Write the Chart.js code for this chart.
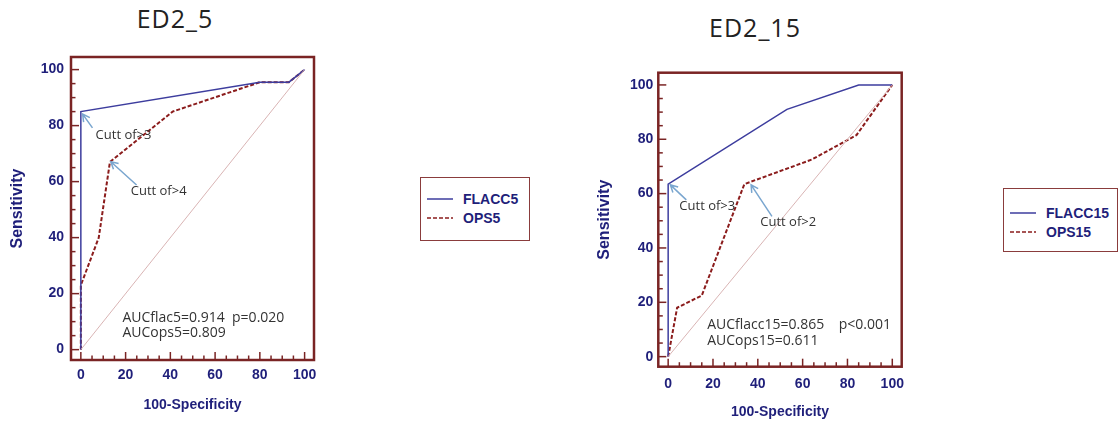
<!DOCTYPE html>
<html>
<head>
<meta charset="utf-8">
<title>ROC ED2</title>
<style>
    body {
        margin: 0;
        background: #ffffff;
        width: 1120px;
        height: 428px;
        position: relative;
        overflow: hidden;
    }
    canvas { position: absolute; top: 0; }
    .heading {
        position: absolute;
        font-family: "Open Sans", sans-serif;
        font-size: 25px;
        line-height: 30px;
        letter-spacing: 1px;
        color: #222222;
        transform: translateX(-50%);
        white-space: nowrap;
    }
    .legend {
        position: absolute;
        border: 1.5px solid #8a3c3c;
        box-sizing: border-box;
    }
    .legend .row {
        position: absolute;
        left: 0;
        height: 18px;
        margin-top: -9px;
        display: flex;
        align-items: center;
        font: bold 14px "Liberation Sans", Arial, sans-serif;
        color: #1f1f7a;
        white-space: nowrap;
    }
    .legend svg { margin-left: 6px; margin-right: 10px; }
</style>
<script src="https://cdn.jsdelivr.net/npm/chart.js"></script>
</head>
<body>
<div class="heading" style="left:175px; top:3px">ED2_5</div>
<div class="heading" style="left:755px; top:12px">ED2_15</div>
<canvas id="roc5" width="340" height="428" style="left:0px"></canvas>
<canvas id="roc15" width="340" height="428" style="left:587px"></canvas>
<div class="legend" id="legend5"></div>
<div class="legend" id="legend15"></div>

<script>
// axis ticks (100-Specificity and Sensitivity share them)
const tickValues = [0, 20, 40, 60, 80, 100];

// chance line
const chanceX = [0, 100];
const chanceY = [0, 100];

// ED2_5
const flacc5X = [0, 0, 80, 93, 100];
const flacc5Y = [0, 85, 95.5, 95.5, 100];
const ops5X = [0, 0, 8, 13, 41, 80, 93, 100];
const ops5Y = [0, 23, 40, 67, 85, 95.5, 95.5, 100];

// ED2_15
const flacc15X = [0, 0, 53, 85, 100];
const flacc15Y = [0, 63.5, 91, 100, 100];
const ops15X = [0, 4, 15, 34, 64, 84, 100];
const ops15Y = [0, 18, 22.5, 63.5, 72.5, 81.5, 100];

const navy = '#1f1f7a';
const frameColor = '#7a2424';
const arrowColor = '#7aa6cf';

function pts(xs, ys) {
    return xs.map((x, i) => ({x: x, y: ys[i]}));
}

// frame, inward ticks, arrows and notes
const rocExtras = {
    id: 'rocExtras',
    afterDatasetsDraw(chart, args, opts) {
        const {ctx, chartArea: a} = chart;
        const x = chart.scales.x, y = chart.scales.y;
        ctx.save();
        ctx.strokeStyle = frameColor;
        ctx.lineWidth = 1.5;
        for (let v = 0; v <= 100; v += 5) {
            const len = v % 20 === 0 ? 8 : 4.5;
            const px = x.getPixelForValue(v);
            ctx.beginPath();
            ctx.moveTo(px, a.bottom);
            ctx.lineTo(px, a.bottom - len);
            ctx.stroke();
            const py = y.getPixelForValue(v);
            ctx.beginPath();
            ctx.moveTo(a.left, py);
            ctx.lineTo(a.left + len, py);
            ctx.stroke();
        }
        ctx.lineWidth = 2.5;
        ctx.strokeRect(a.left, a.top, a.width, a.height);

        // arrows
        ctx.strokeStyle = arrowColor;
        ctx.lineWidth = 1.5;
        (opts.arrows || []).forEach(ar => {
            const tx = x.getPixelForValue(ar.tip[0]), ty = y.getPixelForValue(ar.tip[1]);
            const sx = x.getPixelForValue(ar.tail[0]), sy = y.getPixelForValue(ar.tail[1]);
            const ang = Math.atan2(sy - ty, sx - tx);
            ctx.beginPath();
            ctx.moveTo(sx, sy);
            ctx.lineTo(tx, ty);
            ctx.moveTo(tx + 8 * Math.cos(ang - 0.5), ty + 8 * Math.sin(ang - 0.5));
            ctx.lineTo(tx, ty);
            ctx.lineTo(tx + 8 * Math.cos(ang + 0.5), ty + 8 * Math.sin(ang + 0.5));
            ctx.stroke();
        });

        // notes
        ctx.fillStyle = '#333333';
        ctx.textAlign = 'left';
        ctx.textBaseline = 'middle';
        (opts.notes || []).forEach(n => {
            ctx.font = (n.size || 13) + 'px "Open Sans", sans-serif';
            ctx.fillText(n.text, x.getPixelForValue(n.at[0]), y.getPixelForValue(n.at[1]));
        });
        ctx.restore();
    }
};

function makeRoc(id, series, lay) {
    const datasets = [{
        label: 'chance',
        data: pts(chanceX, chanceY),
        borderColor: '#d9b4b4',
        borderWidth: 1
    }].concat(series.map(s => ({
        label: s.label,
        data: pts(s.x, s.y),
        borderColor: s.color,
        borderWidth: s.width,
        borderDash: s.dash
    })));
    datasets.forEach(d => { d.showLine = true; d.pointRadius = 0; d.fill = false; });

    const axisFont = {family: '"Liberation Sans", Arial, sans-serif', size: 14, weight: 'bold'};
    return new Chart(document.getElementById(id), {
        type: 'scatter',
        data: {datasets: datasets},
        options: {
            responsive: false,
            animation: false,
            layout: {padding: {top: lay.top, right: lay.right, bottom: 0, left: 0}},
            scales: {
                x: {
                    type: 'linear',
                    min: -4.4,
                    max: 104.2,
                    grid: {display: false, drawTicks: false},
                    border: {display: false},
                    afterBuildTicks: s => { s.ticks = tickValues.map(v => ({value: v})); },
                    afterFit: s => { s.height = lay.xHeight; },
                    ticks: {color: navy, font: axisFont, padding: lay.xPad, maxRotation: 0, autoSkip: false},
                    title: {display: true, text: '100-Specificity', color: navy, font: axisFont,
                            padding: {top: 0, bottom: lay.xTitlePad}}
                },
                y: {
                    type: 'linear',
                    min: -3.7,
                    max: 104.5,
                    grid: {display: false, drawTicks: false},
                    border: {display: false},
                    afterBuildTicks: s => { s.ticks = tickValues.map(v => ({value: v})); },
                    afterFit: s => { s.width = lay.yWidth; },
                    ticks: {color: navy, font: axisFont, padding: lay.yPad, autoSkip: false},
                    title: {display: true, text: 'Sensitivity', color: navy,
                            font: {family: axisFont.family, size: 16, weight: 'bold'},
                            padding: {top: 8, bottom: 0}}
                }
            },
            plugins: {
                legend: {display: false},
                tooltip: {enabled: false},
                rocExtras: {arrows: lay.arrows, notes: lay.notes}
            }
        },
        plugins: [rocExtras]
    });
}

function makeLegend(id, chart, box) {
    const el = document.getElementById(id);
    el.style.left = box.left + 'px';
    el.style.top = box.top + 'px';
    el.style.width = box.width + 'px';
    el.style.height = box.height + 'px';
    chart.data.datasets.slice(1).forEach((d, i) => {
        const row = document.createElement('div');
        row.className = 'row';
        row.style.top = box.rows[i] + 'px';
        const dash = d.borderDash ? d.borderDash.join(' ') : 'none';
        row.innerHTML = '<svg width="26" height="4"><line x1="0" y1="2" x2="26" y2="2" stroke="' +
            d.borderColor + '" stroke-width="1.5" stroke-dasharray="' + dash + '"/></svg>';
        row.appendChild(document.createTextNode(d.label));
        el.appendChild(row);
    });
}

const chart5 = makeRoc('roc5', [
    {label: 'FLACC5', x: flacc5X, y: flacc5Y, color: '#3d3d9e', width: 1.5},
    {label: 'OPS5', x: ops5X, y: ops5Y, color: '#8b1c1c', width: 2, dash: [4, 2]}
], {
    top: 57, right: 26, xHeight: 68, xPad: 7, xTitlePad: 14.6, yWidth: 71, yPad: 7,
    arrows: [{tip: [0.8, 84.1], tail: [5.2, 79.2]}, {tip: [13.4, 67.1], tail: [24.9, 58.8]}],
    notes: [
        {text: 'Cutt of>3', at: [6.6, 76.7]},
        {text: 'Cutt of>4', at: [22.3, 56.7]},
        {text: 'AUCflac5=0.914  p=0.020', at: [18.6, 11.2], size: 14},
        {text: 'AUCops5=0.809', at: [18.6, 5.85], size: 14}
    ]
});

const chart15 = makeRoc('roc15', [
    {label: 'FLACC15', x: flacc15X, y: flacc15Y, color: '#3d3d9e', width: 1.5},
    {label: 'OPS15', x: ops15X, y: ops15Y, color: '#8b1c1c', width: 2, dash: [4, 2]}
], {
    top: 72.7, right: 25.3, xHeight: 61.3, xPad: 9, xTitlePad: 7.6, yWidth: 71.3, yPad: 5,
    arrows: [{tip: [1.0, 63.2], tail: [8.1, 57.7]}, {tip: [37, 63.2], tail: [46.3, 51.6]}],
    notes: [
        {text: 'Cutt of>3', at: [5.0, 55.2]},
        {text: 'Cutt of>2', at: [41.1, 49.4]},
        {text: 'AUCflacc15=0.865    p<0.001', at: [17.4, 11.7], size: 14},
        {text: 'AUCops15=0.611', at: [17.4, 5.6], size: 14}
    ]
});

makeLegend('legend5', chart5, {left: 420, top: 177, width: 110, height: 64, rows: [21, 40]});
makeLegend('legend15', chart15, {left: 1003, top: 188, width: 115, height: 64, rows: [24, 43]});
</script>
</body>
</html>
